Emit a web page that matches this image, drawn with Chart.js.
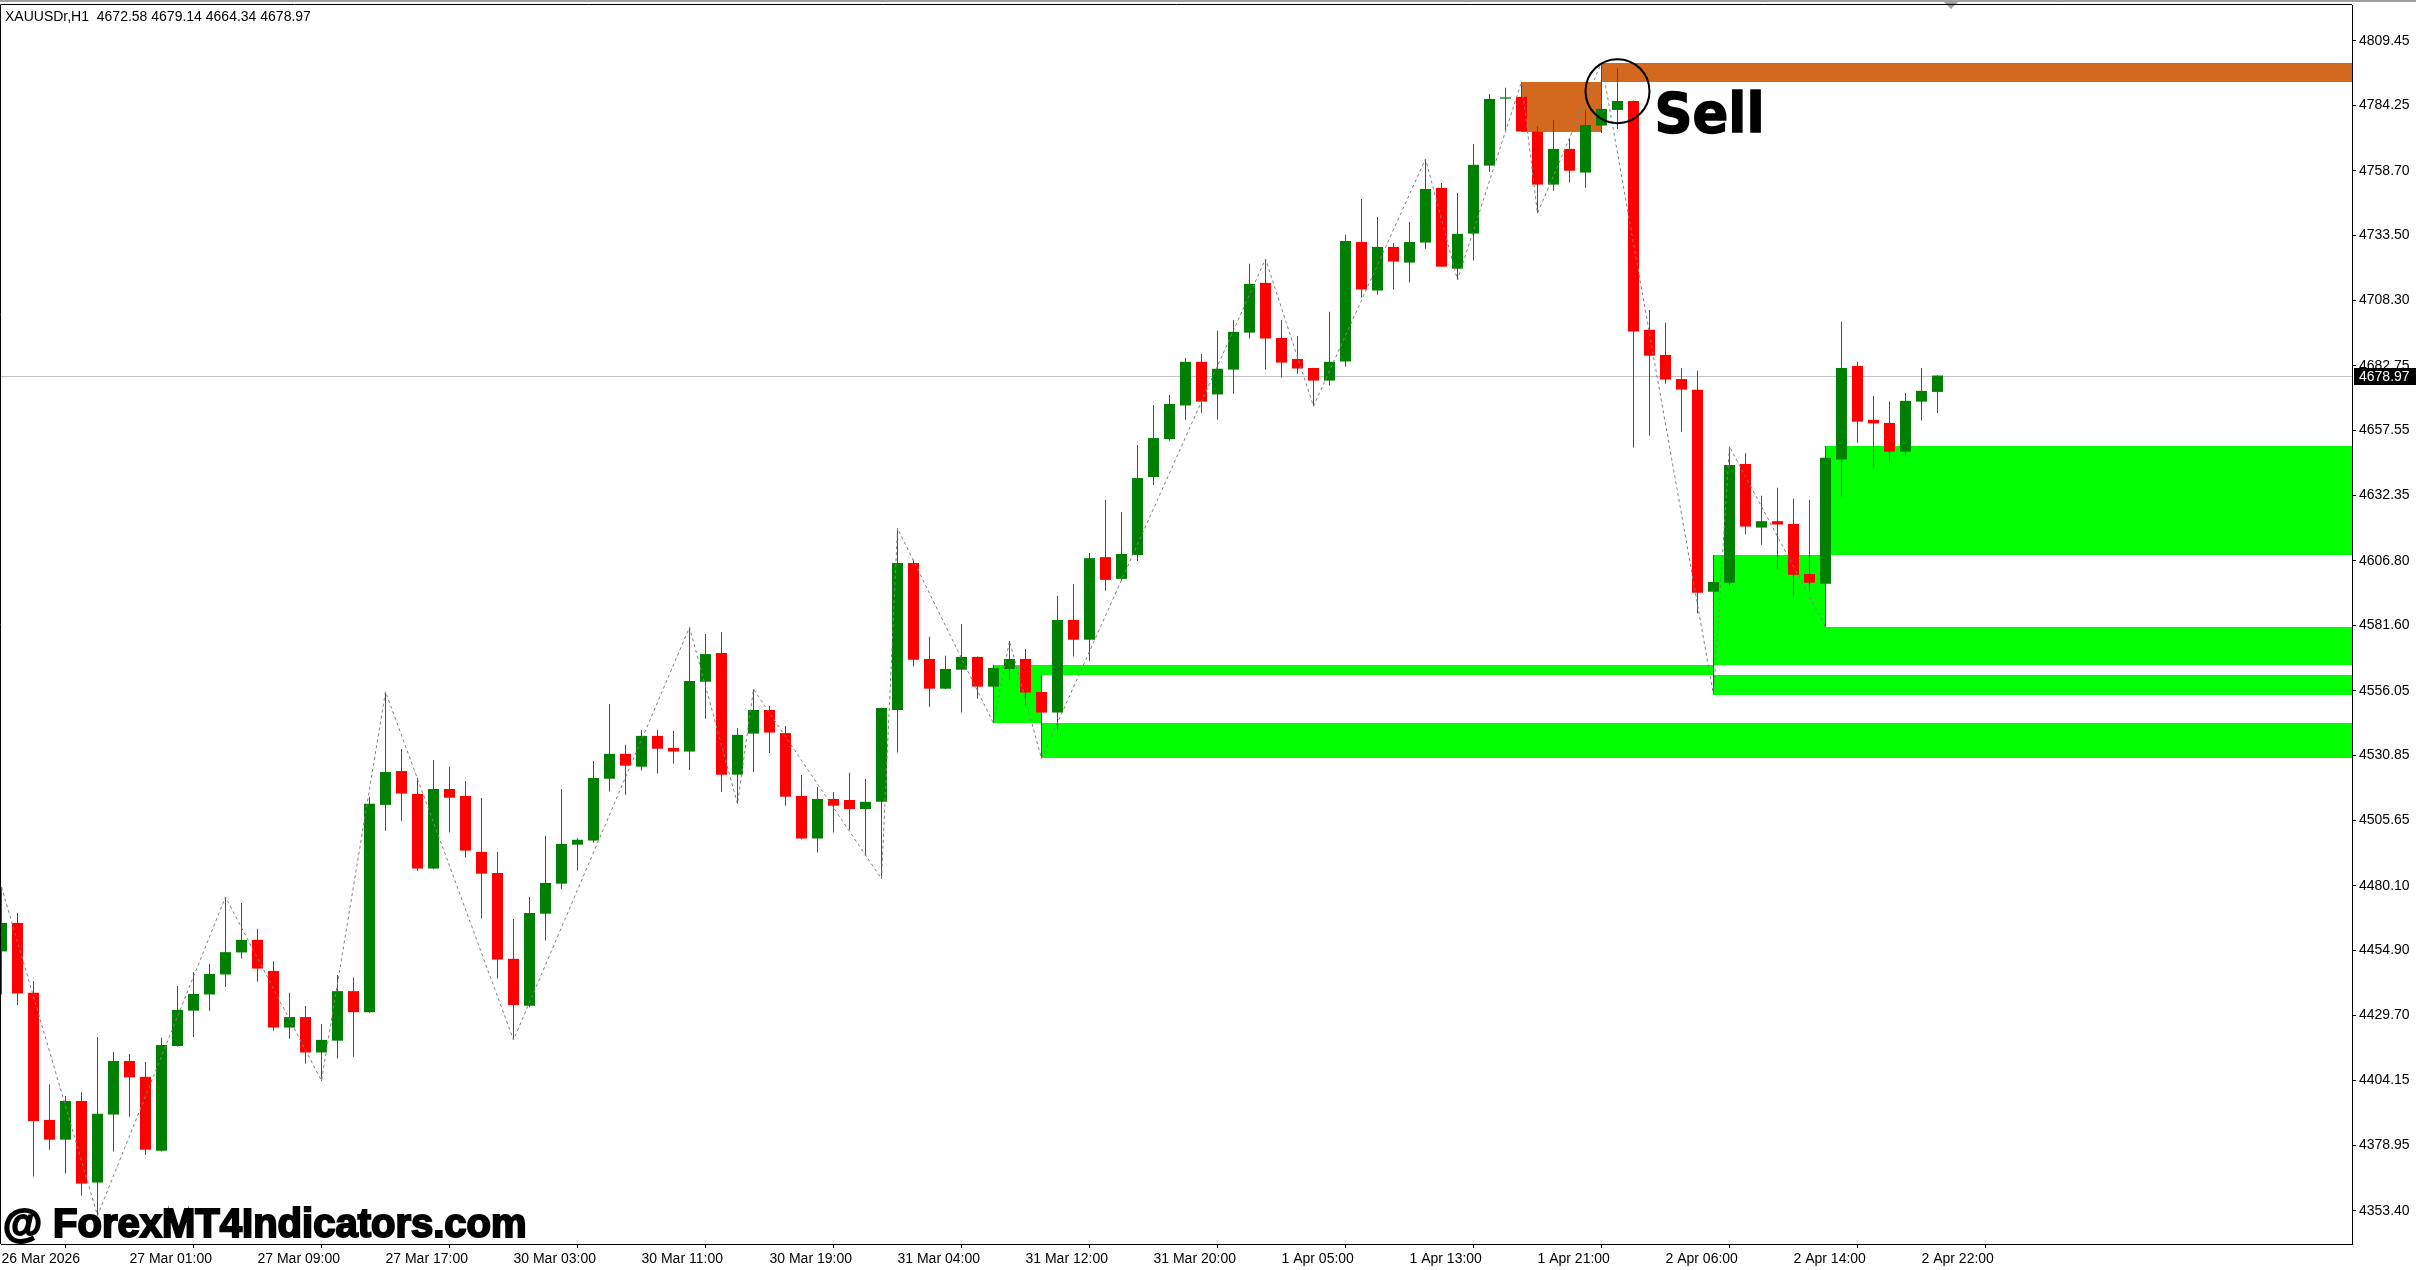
<!DOCTYPE html>
<html>
<head>
<meta charset="utf-8">
<title>XAUUSDr,H1</title>
<script src="https://cdn.jsdelivr.net/npm/chart.js@4.4.1/dist/chart.umd.min.js"></script>
<style>
  html, body { margin: 0; padding: 0; background: #fff; }
  canvas { display: block; }
</style>
</head>
<body>
<canvas id="chart" width="2416" height="1270"></canvas>
<script>
// H1 candles, bar 0 = 26 Mar 2026, last bar = 2 Apr 23:00
const openP = [
  4454.5,4465.6,4438.4,4388.8,4381.1,4396.2,4364.4,4390.9,4411.8,4405.6,
  4376.8,4417.6,4431.4,4437.7,4445.5,4454.1,4459.0,4446.9,4424.8,4428.9,
  4415.1,4419.7,4439.0,4430.8,4511.6,4524.8,4515.9,4486.8,4517.8,4515.1,
  4493.3,4485.1,4451.6,4433.3,4469.2,4480.9,4496.1,4497.7,4521.8,4531.5,
  4526.5,4538.5,4533.8,4532.4,4559.6,4570.8,4523.4,4539.4,4548.6,4539.6,
  4515.1,4498.5,4513.9,4513.5,4510.0,4512.8,4548.6,4605.9,4568.5,4556.9,
  4564.3,4569.3,4557.7,4564.6,4568.5,4555.6,4547.6,4583.7,4576.0,4608.2,
  4599.7,4609.0,4639.4,4654.2,4667.3,4684.3,4671.6,4681.3,4695.7,4715.1,
  4693.6,4685.4,4681.9,4677.0,4684.4,4731.0,4712.1,4729.1,4723.0,4730.8,
  4752.1,4720.6,4734.3,4760.8,4786.9,4787.6,4774.0,4753.4,4767.3,4758.1,
  4776.4,4782.5,4786.0,4696.8,4687.0,4677.6,4673.4,4594.7,4598.2,4644.5,
  4619.7,4622.2,4621.1,4601.6,4597.8,4646.2,4682.7,4661.7,4660.5,4649.3,
  4668.8,4672.58
];
const highP = [
  4479.6,4469.5,4443.0,4402.6,4398.1,4399.6,4421.1,4415.3,4414.5,4411.4,
  4420.8,4441.0,4446.4,4449.6,4475.7,4473.4,4463.3,4450.7,4438.4,4433.2,
  4426.2,4445.3,4444.3,4514.8,4555.7,4533.4,4522.2,4529.1,4526.5,4520.9,
  4514.3,4493.3,4467.1,4475.7,4499.5,4517.8,4498.7,4528.7,4550.9,4535.0,
  4540.8,4540.8,4540.4,4580.8,4578.2,4579.0,4541.6,4556.7,4550.2,4542.4,
  4523.3,4518.6,4516.6,4524.1,4521.7,4549.6,4619.4,4607.3,4577.1,4569.7,
  4582.1,4569.4,4566.2,4575.5,4572.4,4562.3,4593.1,4597.7,4609.8,4630.5,
  4625.8,4651.9,4667.5,4671.4,4685.8,4687.4,4696.4,4700.6,4722.5,4724.4,
  4700.6,4694.4,4682.0,4703.8,4733.8,4747.8,4740.8,4730.6,4738.8,4763.4,
  4754.0,4750.1,4769.2,4788.7,4791.1,4793.4,4776.0,4778.6,4771.6,4782.5,
  4800.9,4798.9,4786.2,4704.5,4699.5,4681.9,4680.8,4609.0,4651.3,4648.7,
  4632.1,4635.2,4630.9,4630.5,4651.5,4699.9,4684.3,4671.0,4668.8,4672.2,
  4681.9,4679.14
];
const lowP = [
  4437.8,4433.6,4366.8,4377.2,4367.9,4359.3,4351.5,4376.5,4390.0,4375.1,
  4376.5,4417.3,4421.1,4431.4,4440.6,4451.7,4442.7,4423.6,4420.4,4410.7,
  4404.1,4412.7,4413.4,4430.6,4501.5,4505.4,4485.9,4486.5,4500.8,4491.1,
  4467.3,4443.9,4420.0,4432.7,4458.7,4478.7,4486.0,4496.9,4516.8,4515.6,
  4525.0,4523.8,4527.7,4525.2,4545.2,4516.6,4512.0,4524.4,4531.8,4511.3,
  4498.1,4493.0,4500.8,4501.9,4491.7,4482.8,4532.0,4565.5,4549.9,4556.8,
  4547.6,4553.0,4543.4,4560.3,4550.3,4529.7,4540.8,4569.4,4567.8,4595.1,
  4598.9,4606.7,4636.3,4653.5,4661.7,4664.5,4661.8,4671.9,4693.4,4681.3,
  4678.2,4679.7,4667.0,4675.1,4682.5,4709.4,4710.5,4712.5,4715.2,4728.4,
  4721.4,4716.2,4723.8,4758.3,4774.7,4774.0,4742.2,4751.0,4754.2,4752.2,
  4773.5,4775.1,4650.9,4655.6,4675.8,4657.1,4586.3,4554.5,4597.1,4617.1,
  4613.0,4603.7,4592.8,4594.7,4581.1,4631.8,4652.8,4643.1,4645.8,4647.4,
  4661.4,4664.34
];
const closeP = [
  4465.6,4438.1,4388.4,4381.1,4396.2,4364.0,4391.2,4411.8,4405.4,4377.2,
  4418.0,4431.7,4437.9,4445.7,4454.2,4459.0,4447.8,4424.8,4428.9,4415.1,
  4420.0,4439.0,4430.8,4512.0,4524.4,4516.0,4486.8,4517.8,4514.4,4493.8,
  4484.8,4451.3,4433.6,4469.5,4481.2,4496.4,4498.0,4522.1,4531.5,4526.9,
  4538.5,4533.5,4532.4,4559.9,4570.4,4523.4,4538.9,4548.6,4539.8,4514.8,
  4498.5,4513.9,4511.3,4510.0,4512.8,4549.4,4605.9,4568.2,4556.9,4564.6,
  4569.3,4557.7,4565.0,4568.5,4555.4,4547.6,4583.7,4576.0,4607.8,4599.3,
  4609.4,4639.0,4654.6,4667.9,4684.3,4668.8,4681.6,4696.0,4714.7,4693.4,
  4684.0,4681.7,4677.0,4684.3,4731.4,4712.5,4729.1,4723.4,4731.0,4751.7,
  4721.4,4734.2,4761.1,4786.8,4787.4,4774.1,4753.4,4767.3,4758.8,4776.6,
  4782.9,4786.0,4696.1,4686.7,4677.4,4673.5,4594.3,4598.5,4644.1,4620.1,
  4622.2,4620.9,4601.3,4598.2,4646.9,4681.9,4661.0,4660.3,4649.3,4669.1,
  4673.0,4678.97
];

// time axis labels (every 8 bars)
const timeLabels = ['26 Mar 2026', '27 Mar 01:00', '27 Mar 09:00', '27 Mar 17:00', '30 Mar 03:00',
  '30 Mar 11:00', '30 Mar 19:00', '31 Mar 04:00', '31 Mar 12:00', '31 Mar 20:00', '1 Apr 05:00',
  '1 Apr 13:00', '1 Apr 21:00', '2 Apr 06:00', '2 Apr 14:00', '2 Apr 22:00'];
const timeLabelBars = [0, 8, 16, 24, 32, 40, 48, 56, 64, 72, 80, 88, 96, 104, 112, 120];

// price axis labels
const priceTicks = [4809.45, 4784.25, 4758.70, 4733.50, 4708.30, 4682.75, 4657.55, 4632.35, 4606.80,
  4581.60, 4556.05, 4530.85, 4505.65, 4480.10, 4454.90, 4429.70, 4404.15, 4378.95, 4353.40];

// zigzag swing points
const zigzagBars = [0, 6, 14, 20, 24, 32, 43, 46, 47, 55, 56, 62, 63, 65, 79, 82, 89, 91, 95, 96, 100, 107, 108, 114];
const zigzagPrices = [4479.6, 4351.5, 4475.7, 4404.1, 4555.7, 4420.0, 4580.8, 4512.0, 4556.7, 4482.8,
  4619.4, 4543.4, 4575.5, 4529.7, 4724.4, 4667.0, 4763.4, 4716.2, 4793.4, 4742.2, 4800.9, 4554.5, 4651.3, 4581.1];

// demand zones (green, run to the right edge)
const demandStart = [62, 65, 107, 114];
const demandLow = [4543.4, 4529.7, 4554.5, 4581.1];
const demandHigh = [4566.2, 4562.3, 4609.0, 4651.5];

// supply zones (orange), null end = right edge
const supplyStart = [95, 100];
const supplyEnd = [100, null];
const supplyLow = [4774.0, 4793.5];
const supplyHigh = [4793.4, 4800.9];

const symbolText = 'XAUUSDr,H1  4672.58 4679.14 4664.34 4678.97';
const lastPrice = 4678.97;
const signalBar = 101;
const signalPrice = 4789.8;
const signalText = 'Sell';
const watermark = '@ ForexMT4Indicators.com';

const bars = openP.map((o, i) => i);
const bodies = bars.map(i => ({ x: i, y: [openP[i], closeP[i]] }));
const wicks = bars.map(i => ({ x: i, y: [lowP[i], highP[i]] }));
const zigzag = zigzagBars.map((b, k) => ({ x: b, y: zigzagPrices[k] }));
const candleColor = c => closeP[c.dataIndex] >= openP[c.dataIndex] ? '#008000' : '#ff0000';

const mt4Plugin = {
  id: 'mt4',
  beforeDraw(chart) {
    const { ctx, chartArea: a, scales: { x, y } } = chart;
    ctx.save();
    ctx.beginPath();
    ctx.rect(a.left, a.top, a.right - a.left, a.bottom - a.top);
    ctx.clip();
    // overlapping green zones cancel each other out, like in MT4
    ctx.globalCompositeOperation = 'xor';
    ctx.fillStyle = '#00ff00';
    demandStart.forEach((b, k) => {
      const x0 = Math.round(x.getPixelForValue(b));
      const y0 = Math.round(y.getPixelForValue(demandHigh[k]));
      const y1 = Math.round(y.getPixelForValue(demandLow[k]));
      ctx.fillRect(x0, y0, a.right - x0, y1 - y0);
    });
    ctx.globalCompositeOperation = 'source-over';
    ctx.fillStyle = '#d2691e';
    supplyStart.forEach((b, k) => {
      const x0 = Math.round(x.getPixelForValue(b));
      const x1 = supplyEnd[k] === null ? a.right : Math.round(x.getPixelForValue(supplyEnd[k]));
      const y0 = Math.round(y.getPixelForValue(supplyHigh[k]));
      const y1 = Math.round(y.getPixelForValue(supplyLow[k]));
      ctx.fillRect(x0, y0, x1 - x0, y1 - y0);
    });
    ctx.restore();
  },
  beforeDatasetsDraw(chart) {
    const { ctx, chartArea: a, scales: { y } } = chart;
    const py = Math.round(y.getPixelForValue(lastPrice)) + 0.5;
    ctx.save();
    ctx.strokeStyle = '#c0c0c0';
    ctx.lineWidth = 1;
    ctx.beginPath();
    ctx.moveTo(a.left, py);
    ctx.lineTo(a.right, py);
    ctx.stroke();
    ctx.restore();
  },
  afterDraw(chart) {
    const { ctx, chartArea: a, scales: { x, y } } = chart;
    ctx.save();
    // window frame
    ctx.fillStyle = '#a0a0a0';
    ctx.fillRect(0, 0, chart.width, 2);
    ctx.beginPath();
    ctx.moveTo(1944, 2);
    ctx.lineTo(1958, 2);
    ctx.lineTo(1951, 9);
    ctx.closePath();
    ctx.fill();
    ctx.strokeStyle = '#000';
    ctx.lineWidth = 1;
    ctx.beginPath();
    ctx.moveTo(0.5, a.bottom);
    ctx.lineTo(0.5, 4.5);
    ctx.lineTo(a.right, 4.5);
    ctx.stroke();

    ctx.fillStyle = '#000';
    ctx.textBaseline = 'alphabetic';
    ctx.textAlign = 'left';
    ctx.font = '14px "Liberation Sans"';
    ctx.fillText(symbolText, 5, 21, 306);

    // signal marker
    const cx = x.getPixelForValue(signalBar);
    const cy = y.getPixelForValue(signalPrice);
    ctx.lineWidth = 2;
    ctx.beginPath();
    ctx.arc(cx, cy, 32, 0, Math.PI * 2);
    ctx.stroke();
    ctx.font = 'bold 56px "DejaVu Sans"';
    ctx.lineWidth = 1.5;
    ctx.fillText(signalText, cx + 37, cy + 41, 110);
    ctx.strokeText(signalText, cx + 37, cy + 41, 110);

    // watermark
    ctx.font = 'bold 40px "Liberation Sans"';
    ctx.lineWidth = 2;
    ctx.fillText(watermark, 3, a.bottom - 7, 531);
    ctx.strokeText(watermark, 3, a.bottom - 7, 531);

    // last price tag
    const py = Math.round(y.getPixelForValue(lastPrice));
    ctx.fillRect(a.right + 2, py - 8, chart.width - a.right - 2, 17);
    ctx.fillStyle = '#fff';
    ctx.font = '14px "Liberation Sans"';
    ctx.textBaseline = 'middle';
    ctx.fillText(lastPrice.toFixed(2), a.right + 7, py + 1);
    ctx.restore();
  }
};

const axisFont = { family: 'Liberation Sans', size: 14 };

// no extra label padding, so the plot area stays where MT4 puts it
const noPadding = s => {
  s.paddingTop = 0;
  s.paddingBottom = 0;
  s.paddingLeft = 0;
  s.paddingRight = 0;
};

const config = {
  type: 'bar',
  data: {
    datasets: [
      {
        type: 'line',
        data: zigzag,
        borderColor: '#808080',
        borderWidth: 1,
        borderDash: [3, 3],
        pointRadius: 0,
        tension: 0,
        order: 0
      },
      {
        data: bodies,
        backgroundColor: candleColor,
        barThickness: 11,
        minBarLength: 1,
        grouped: false,
        inflateAmount: 0,
        borderWidth: 0,
        order: 1
      },
      {
        data: wicks,
        backgroundColor: candleColor,
        barThickness: 1,
        grouped: false,
        inflateAmount: 0,
        borderWidth: 0,
        order: 2
      }
    ]
  },
  options: {
    responsive: false,
    devicePixelRatio: 1,
    animation: false,
    events: [],
    layout: { padding: { left: 1, top: 5, right: 0, bottom: 0 } },
    plugins: { legend: { display: false }, tooltip: { enabled: false } },
    scales: {
      x: {
        type: 'linear',
        min: -0.03125,
        max: 146.90625,
        offset: false,
        grid: { drawOnChartArea: false, tickLength: 4, color: '#000' },
        border: { color: '#000' },
        ticks: {
          autoSkip: false,
          maxRotation: 0,
          align: 'start',
          padding: 3,
          color: '#000',
          font: axisFont,
          callback: v => timeLabels[timeLabelBars.indexOf(v)]
        },
        afterBuildTicks: s => { s.ticks = timeLabelBars.map(v => ({ value: v })); },
        afterFit: s => { s.height = 26; noPadding(s); }
      },
      y: {
        position: 'right',
        min: 4340.44,
        max: 4823.40,
        grid: { drawOnChartArea: false, tickLength: 4, color: '#000' },
        border: { color: '#000' },
        ticks: {
          autoSkip: false,
          padding: 3,
          color: '#000',
          font: axisFont,
          callback: v => v.toFixed(2)
        },
        afterBuildTicks: s => { s.ticks = priceTicks.map(v => ({ value: v })); },
        afterFit: s => { s.width = 64; noPadding(s); }
      }
    }
  },
  plugins: [mt4Plugin]
};

const chart = new Chart(document.getElementById('chart'), config);
</script>
</body>
</html>
